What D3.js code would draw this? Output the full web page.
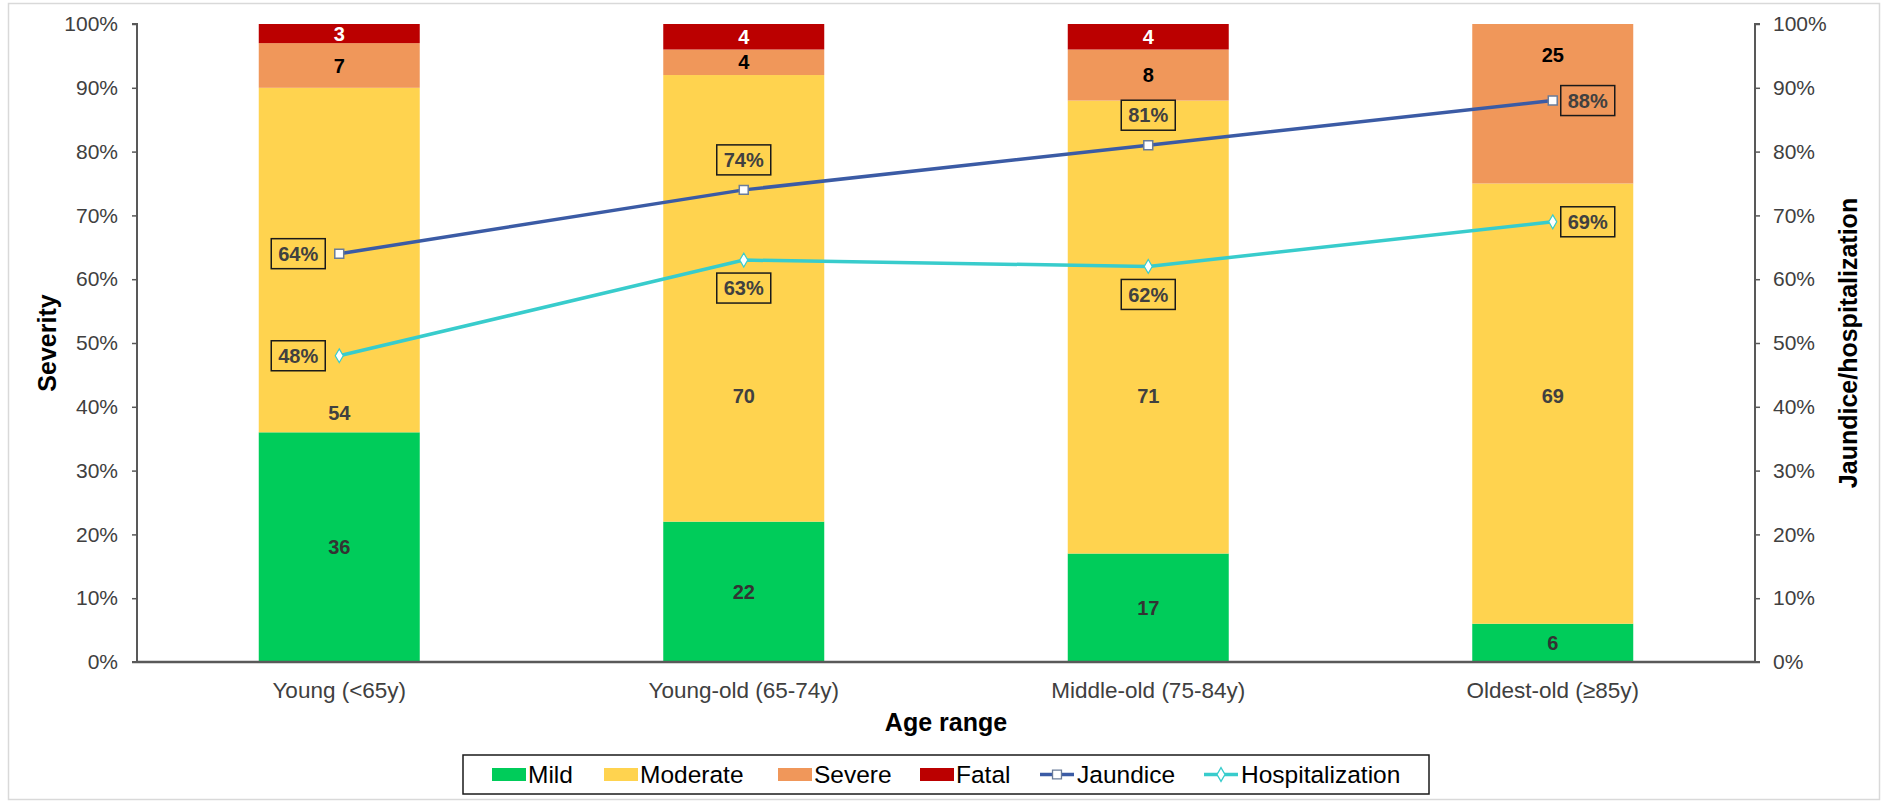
<!DOCTYPE html>
<html>
<head>
<meta charset="utf-8">
<script src="https://cdn.jsdelivr.net/npm/d3@7/dist/d3.min.js"></script>
<style>
  html, body { margin: 0; padding: 0; background: #fff; }
  svg { display: block; font-family: "Liberation Sans", Arial, sans-serif; }
</style>
</head>
<body>
<svg id="chart" width="1883" height="803"></svg>
<script>
// ---- data ----
const categories = ["Young (<65y)", "Young-old (65-74y)", "Middle-old (75-84y)", "Oldest-old (\u226585y)"];
const mild     = [36, 22, 17, 6];
const moderate = [54, 70, 71, 69];
const severe   = [7, 4, 8, 25];
const fatal    = [3, 4, 4, 0];
const jaundice = [64, 74, 81, 88];
const hospitalization = [48, 63, 62, 69];
const yTicks = [0, 10, 20, 30, 40, 50, 60, 70, 80, 90, 100];
// label placement (value-axis units for moderate / severe labels; side for line labels)
const moderateLabelAt = [39, 41.7, 41.7, 41.7];
const severeLabelAt = [null, null, null, 95.2];
const jaundiceLabelSide = ["left", "above", "above", "right"];
const hospLabelSide = ["left", "below", "below", "right"];

const seriesKeys = ["Mild", "Moderate", "Severe", "Fatal"];
const seriesColors = { Mild: "#00CC5A", Moderate: "#FFD34F", Severe: "#F0975A", Fatal: "#BB0000" };
const labelColors = { Mild: "#333333", Moderate: "#404040", Severe: "#000000", Fatal: "#ffffff" };
const jColor = "#3B5BA5", hColor = "#38CCCC";

const rows = categories.map((c, i) => ({ cat: c, Mild: mild[i], Moderate: moderate[i], Severe: severe[i], Fatal: fatal[i] }));

const svg = d3.select("#chart");
const L = 137, R = 1755, T = 24, B = 662;

// outer frame
svg.append("rect").attr("x", 8.5).attr("y", 3.5).attr("width", 1871).attr("height", 796)
  .attr("fill", "#fff").attr("stroke", "#d9d9d9").attr("stroke-width", 1.5);

const x = d3.scaleBand().domain(categories).range([L, R]).padding(0);
const y = d3.scaleLinear().domain([0, 100]).range([B, T]);
const barW = x.bandwidth() * 0.398;
const cx = c => x(c) + x.bandwidth() / 2;

// stacked bars
const stack = d3.stack().keys(seriesKeys)(rows);
const g = svg.append("g");
stack.forEach(s => {
  g.selectAll(null).data(s).enter().append("rect")
    .attr("x", d => cx(d.data.cat) - barW / 2)
    .attr("y", d => y(d[1]))
    .attr("width", barW)
    .attr("height", d => y(d[0]) - y(d[1]))
    .attr("fill", seriesColors[s.key]);
});
// bar labels
stack.forEach(s => {
  g.selectAll(null).data(s.filter(d => d[1] - d[0] > 0)).enter().append("text")
    .attr("x", d => cx(d.data.cat))
    .attr("y", d => {
      const i = categories.indexOf(d.data.cat);
      if (s.key === "Moderate") return y(moderateLabelAt[i]);
      if (s.key === "Severe" && severeLabelAt[i] != null) return y(severeLabelAt[i]);
      return y((d[0] + d[1]) / 2);
    })
    .attr("dy", "0.36em")
    .attr("text-anchor", "middle")
    .attr("font-size", 20).attr("font-weight", "bold")
    .attr("fill", labelColors[s.key])
    .text(d => d.data[s.key]);
});

// axes
const axisColor = "#595959";
const yAxisL = d3.axisLeft(y).tickValues(yTicks).tickFormat(d => d + "%").tickSize(5).tickPadding(14);
const gl = svg.append("g").attr("transform", `translate(${L},0)`).call(yAxisL);
const yAxisR = d3.axisRight(y).tickValues(yTicks).tickFormat(d => d + "%").tickSize(5).tickPadding(13);
const gr = svg.append("g").attr("transform", `translate(${R},0)`).call(yAxisR);
[gl, gr].forEach(a => {
  a.select(".domain").attr("stroke", axisColor).attr("stroke-width", 2);
  a.selectAll(".tick line").attr("stroke", axisColor).attr("stroke-width", 1.5);
  a.selectAll(".tick text").attr("font-size", 21).attr("fill", "#404040")
    .attr("font-family", "'Liberation Sans', Arial, sans-serif");
});
gl.select(".domain").attr("d", `M-5,${T}H0V${B}H-5`);
gr.select(".domain").attr("d", `M5,${T}H0V${B}H5`);

// x axis
const xAxis = d3.axisBottom(x).tickSize(0).tickPadding(20);
const gx = svg.append("g").attr("transform", `translate(0,${B})`).call(xAxis);
gx.select(".domain").attr("stroke", axisColor).attr("stroke-width", 2.5).attr("d", `M${L},0H${R}`);
gx.selectAll(".tick text").attr("font-size", 22.5).attr("fill", "#404040")
  .attr("font-family", "'Liberation Sans', Arial, sans-serif");

// axis titles
svg.append("text").attr("x", (L + R) / 2).attr("y", 722).attr("dy", "0.36em")
  .attr("text-anchor", "middle").attr("font-size", 25).attr("font-weight", "bold").attr("fill", "#000")
  .text("Age range");
svg.append("text").attr("transform", `translate(47,${(T + B) / 2}) rotate(-90)`).attr("dy", "0.36em")
  .attr("text-anchor", "middle").attr("font-size", 25).attr("font-weight", "bold").attr("fill", "#000")
  .text("Severity");
svg.append("text").attr("transform", `translate(1848,${(T + B) / 2}) rotate(-90)`).attr("dy", "0.36em")
  .attr("text-anchor", "middle").attr("font-size", 25).attr("font-weight", "bold").attr("fill", "#000")
  .text("Jaundice/hospitalization");

// lines
const line = d3.line().x((d, i) => cx(categories[i])).y(d => y(d));
svg.append("path").datum(hospitalization).attr("d", line).attr("fill", "none")
  .attr("stroke", hColor).attr("stroke-width", 3.5);
svg.append("path").datum(jaundice).attr("d", line).attr("fill", "none")
  .attr("stroke", jColor).attr("stroke-width", 3.5);

const sq = d3.symbol().type(d3.symbolSquare).size(80);
const dia = d3.symbol().type(d3.symbolDiamond).size(55);
svg.selectAll(null).data(jaundice).enter().append("path")
  .attr("d", sq).attr("transform", (d, i) => `translate(${cx(categories[i])},${y(d)})`)
  .attr("fill", "#fff").attr("stroke", "#6a7c99").attr("stroke-width", 1.5);
svg.selectAll(null).data(hospitalization).enter().append("path")
  .attr("d", dia).attr("transform", (d, i) => `translate(${cx(categories[i])},${y(d)})`)
  .attr("fill", "#fff").attr("stroke", hColor).attr("stroke-width", 1.2);

// boxed labels
function boxLabels(vals, sides) {
  vals.forEach((v, i) => {
    let px = cx(categories[i]), py = y(v);
    const side = sides[i];
    if (side === "left") px -= 41;
    if (side === "right") px += 35;
    if (side === "above") py -= 30;
    if (side === "below") py += 28;
    const w = 54, h = 30;
    svg.append("rect").attr("x", px - w / 2).attr("y", py - h / 2).attr("width", w).attr("height", h)
      .attr("fill", "none").attr("stroke", "#1a1a1a").attr("stroke-width", 1.5);
    svg.append("text").attr("x", px).attr("y", py).attr("dy", "0.36em").attr("text-anchor", "middle")
      .attr("font-size", 20).attr("font-weight", "bold").attr("fill", "#404040").text(v + "%");
  });
}
boxLabels(jaundice, jaundiceLabelSide);
boxLabels(hospitalization, hospLabelSide);

// legend
const lg = svg.append("g");
lg.append("rect").attr("x", 463).attr("y", 755).attr("width", 966).attr("height", 39)
  .attr("fill", "#fff").attr("stroke", "#1a1a1a").attr("stroke-width", 1.5);
const ly = 774.5;
const legendItems = [
  { name: "Mild", type: "bar", x: 492 },
  { name: "Moderate", type: "bar", x: 604 },
  { name: "Severe", type: "bar", x: 778 },
  { name: "Fatal", type: "bar", x: 920 },
  { name: "Jaundice", type: "line", x: 1040 },
  { name: "Hospitalization", type: "line", x: 1204 }
];
legendItems.forEach(it => {
  let tx;
  if (it.type === "bar") {
    lg.append("rect").attr("x", it.x).attr("y", ly - 6.5).attr("width", 34).attr("height", 13)
      .attr("fill", seriesColors[it.name]);
    tx = it.x + 36;
  } else {
    const col = it.name === "Jaundice" ? jColor : hColor;
    lg.append("line").attr("x1", it.x).attr("x2", it.x + 34).attr("y1", ly).attr("y2", ly)
      .attr("stroke", col).attr("stroke-width", 3.5);
    lg.append("path").attr("d", it.name === "Jaundice" ? sq : dia)
      .attr("transform", `translate(${it.x + 17},${ly})`)
      .attr("fill", "#fff").attr("stroke", it.name === "Jaundice" ? "#6a7c99" : col).attr("stroke-width", 1.3);
    tx = it.x + 37;
  }
  lg.append("text").attr("x", tx).attr("y", ly).attr("dy", "0.36em")
    .attr("font-size", 24.5).attr("fill", "#000").text(it.name);
});
</script>
</body>
</html>
